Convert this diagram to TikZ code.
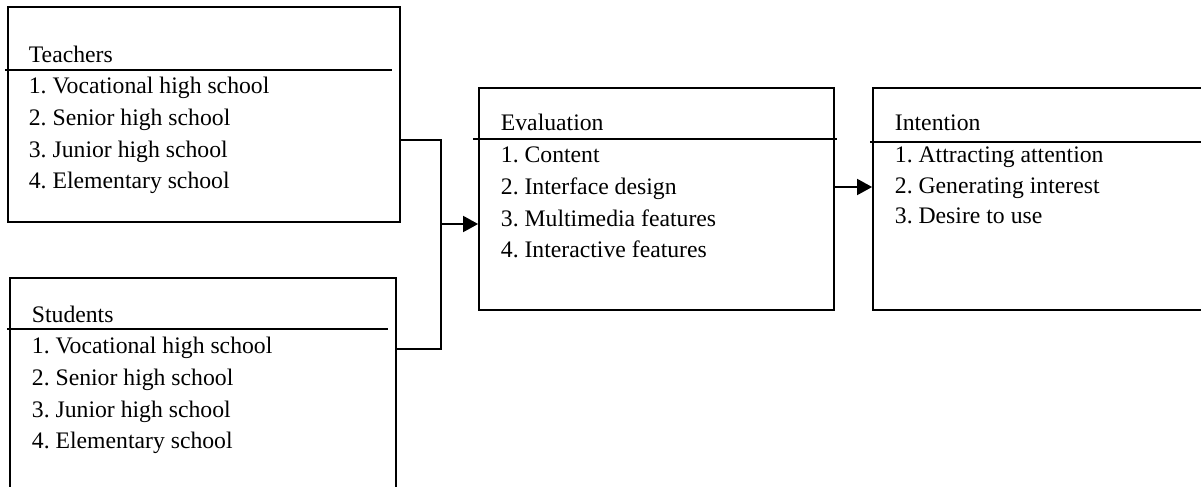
\documentclass[tikz,border=0pt]{standalone}
\usepackage{fontspec}
\setmainfont{Liberation Serif}
\usetikzlibrary{arrows.meta}
\frenchspacing

\begin{document}
\begin{tikzpicture}[x=0.5pt,y=-0.5pt,line width=0.9pt,
    box/.style={draw,rectangle,inner sep=0pt},
    txt/.style={anchor=base west,inner sep=0pt,font=\fontsize{11.85}{14}\selectfont},
    arr/.style={-{Triangle[length=7.5pt,width=8pt]}}]

  % Page frame (clips the boxes that run off the page)
  \path[use as bounding box,clip] (0,0) rectangle (1201,487);

  % Draw the four boxes
  \node[box,minimum width=196pt,minimum height=107.5pt] (teachers) at (204,114.5) {};
  \node[box,minimum width=193pt,minimum height=110pt] (students) at (203,388) {};
  \node[box,minimum width=177.5pt,minimum height=111pt] (eval) at (656.5,199) {};
  \node[box,minimum width=170pt,minimum height=111pt] (intent) at (1043,199) {};

  % Dividers under the titles
  \draw (5,70) -- (392,70);
  \draw (7,329) -- (388,329);
  \draw (473,139) -- (837,139);
  \draw (870,142) -- (1205,142);

  % Teachers
  \node[txt] (tTitle) at (28,62) {Teachers};
  \node[txt] (t1) at (28,93) {1. Vocational high school};
  \node[txt] (t2) at (28,125) {2. Senior high school};
  \node[txt] (t3) at (28,157) {3. Junior high school};
  \node[txt] (t4) at (28,188) {4. Elementary school};

  % Students
  \node[txt] (sTitle) at (31,322) {Students};
  \node[txt] (s1) at (31,353) {1. Vocational high school};
  \node[txt] (s2) at (31,385) {2. Senior high school};
  \node[txt] (s3) at (31,417) {3. Junior high school};
  \node[txt] (s4) at (31,448) {4. Elementary school};

  % Evaluation
  \node[txt] (eTitle) at (500,130) {Evaluation};
  \node[txt] (e1) at (500,162) {1. Content};
  \node[txt] (e2) at (500,194) {2. Interface design};
  \node[txt] (e3) at (500,226) {3. Multimedia features};
  \node[txt] (e4) at (500,257) {4. Interactive features};

  % Intention
  \node[txt] (iTitle) at (894,130) {Intention};
  \node[txt] (i1) at (894,162) {1. Attracting attention};
  \node[txt] (i2) at (894,193) {2. Generating interest};
  \node[txt] (i3) at (894,223) {3. Desire to use};

  % Join points of the connectors
  \coordinate (tj) at (441,140);
  \coordinate (sj) at (441,349);
  \coordinate (mj) at (441,224);
  \coordinate (ej) at (853,187);

  % Connectors
  \draw (teachers.east |- tj) -- (tj) -- (sj) -- (students.east |- sj);
  \draw[arr] (mj) -- (eval.west |- mj);
  \draw[arr] (eval.east |- ej) -- (intent.west |- ej);

\end{tikzpicture}
\end{document}
